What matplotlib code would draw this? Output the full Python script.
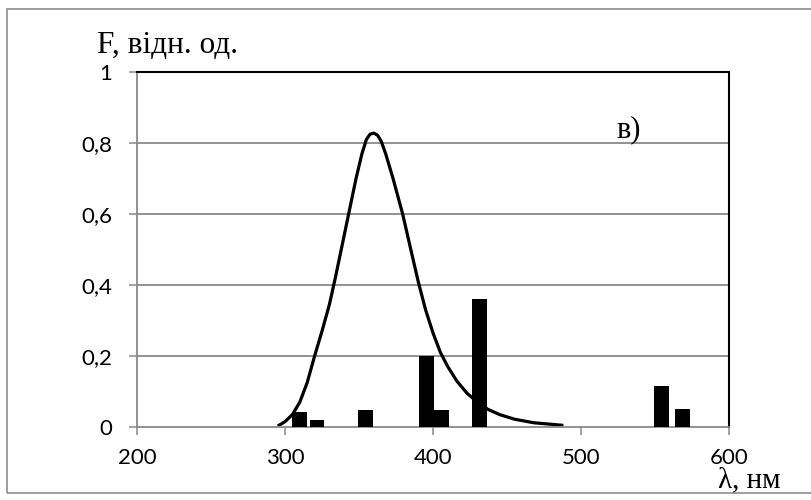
import matplotlib
matplotlib.use("Agg")
import matplotlib.pyplot as plt
from matplotlib.patches import Rectangle

# fluorescence curve
curve_lam = [296, 300, 305, 310, 315, 320, 325, 330, 334, 338, 343, 348, 352, 355, 357.5, 360,
             362.5, 365, 368, 373, 379.5, 385, 390, 395, 400, 405, 410, 416, 423, 430, 437,
             445, 455, 468, 487]
curve_f = [0.005, 0.015, 0.035, 0.07, 0.125, 0.2, 0.27, 0.345, 0.42, 0.5, 0.6, 0.7, 0.77, 0.81,
           0.825, 0.828, 0.822, 0.805, 0.77, 0.7, 0.6, 0.5, 0.41, 0.33, 0.265, 0.21, 0.17, 0.13,
           0.095, 0.07, 0.05, 0.035, 0.022, 0.012, 0.005]

# bar lines
bar_lam = [309.6, 321.6, 354.3, 395.5, 405.5, 431.5, 554.3, 568.8]
bar_f = [0.043, 0.02, 0.048, 0.2, 0.048, 0.36, 0.115, 0.05]

xticks = [200, 300, 400, 500, 600]
yticks = [0, 0.2, 0.4, 0.6, 0.8, 1]
ytick_labels = ["0", "0,2", "0,4", "0,6", "0,8", "1"]

GRID = "#898989"
W, H = 811, 500

fig = plt.figure(figsize=(W / 100, H / 100), dpi=100)
ax = fig.add_axes([137 / W, 1 - 427 / H, (729 - 137) / W, (427 - 72) / H])

ax.bar(bar_lam, bar_f, width=10, color="black", zorder=3)
ax.plot(curve_lam, curve_f, color="black", lw=2.3, zorder=2, solid_joinstyle="round")

ax.set_xlim(200, 600)
ax.set_ylim(0, 1)
ax.set_xticks(xticks)
ax.set_yticks(yticks)
ax.set_yticklabels(ytick_labels)
for t in ax.get_xticklabels() + ax.get_yticklabels():
    t.set_family("Lato"); t.set_fontsize(16)
ax.tick_params(axis="x", direction="out", length=6, width=1.1, color=GRID, pad=9)
ax.tick_params(axis="y", direction="out", length=6, width=1.1, color=GRID, pad=12)

for y in yticks[1:-1]:
    ax.axhline(y, color=GRID, lw=1.3, zorder=1)
ax.spines["left"].set_color(GRID)
ax.spines["bottom"].set_color(GRID)
for s in ["left", "bottom"]:
    ax.spines[s].set_linewidth(1.3)
for s in ["top", "right"]:
    ax.spines[s].set_color("black")
    ax.spines[s].set_linewidth(1.5)

serif = "Liberation Serif"
fig.text(97 / W, 1 - 53 / H, "F, відн. од.", family=serif, fontsize=22.5, va="baseline")
fig.text(718 / W, 1 - 487 / H, "λ, нм", family=serif, fontsize=21, va="baseline")
ax.text(524.3, 0.817, "в)", family=serif, fontsize=22, va="baseline")

fig.patches.append(Rectangle((7 / W, 1 - 493 / H), 1.0, (493 - 9) / H, transform=fig.transFigure,
                             fill=False, edgecolor="#8c8c8c", lw=1.2))

fig.savefig("out.png", dpi=100)
